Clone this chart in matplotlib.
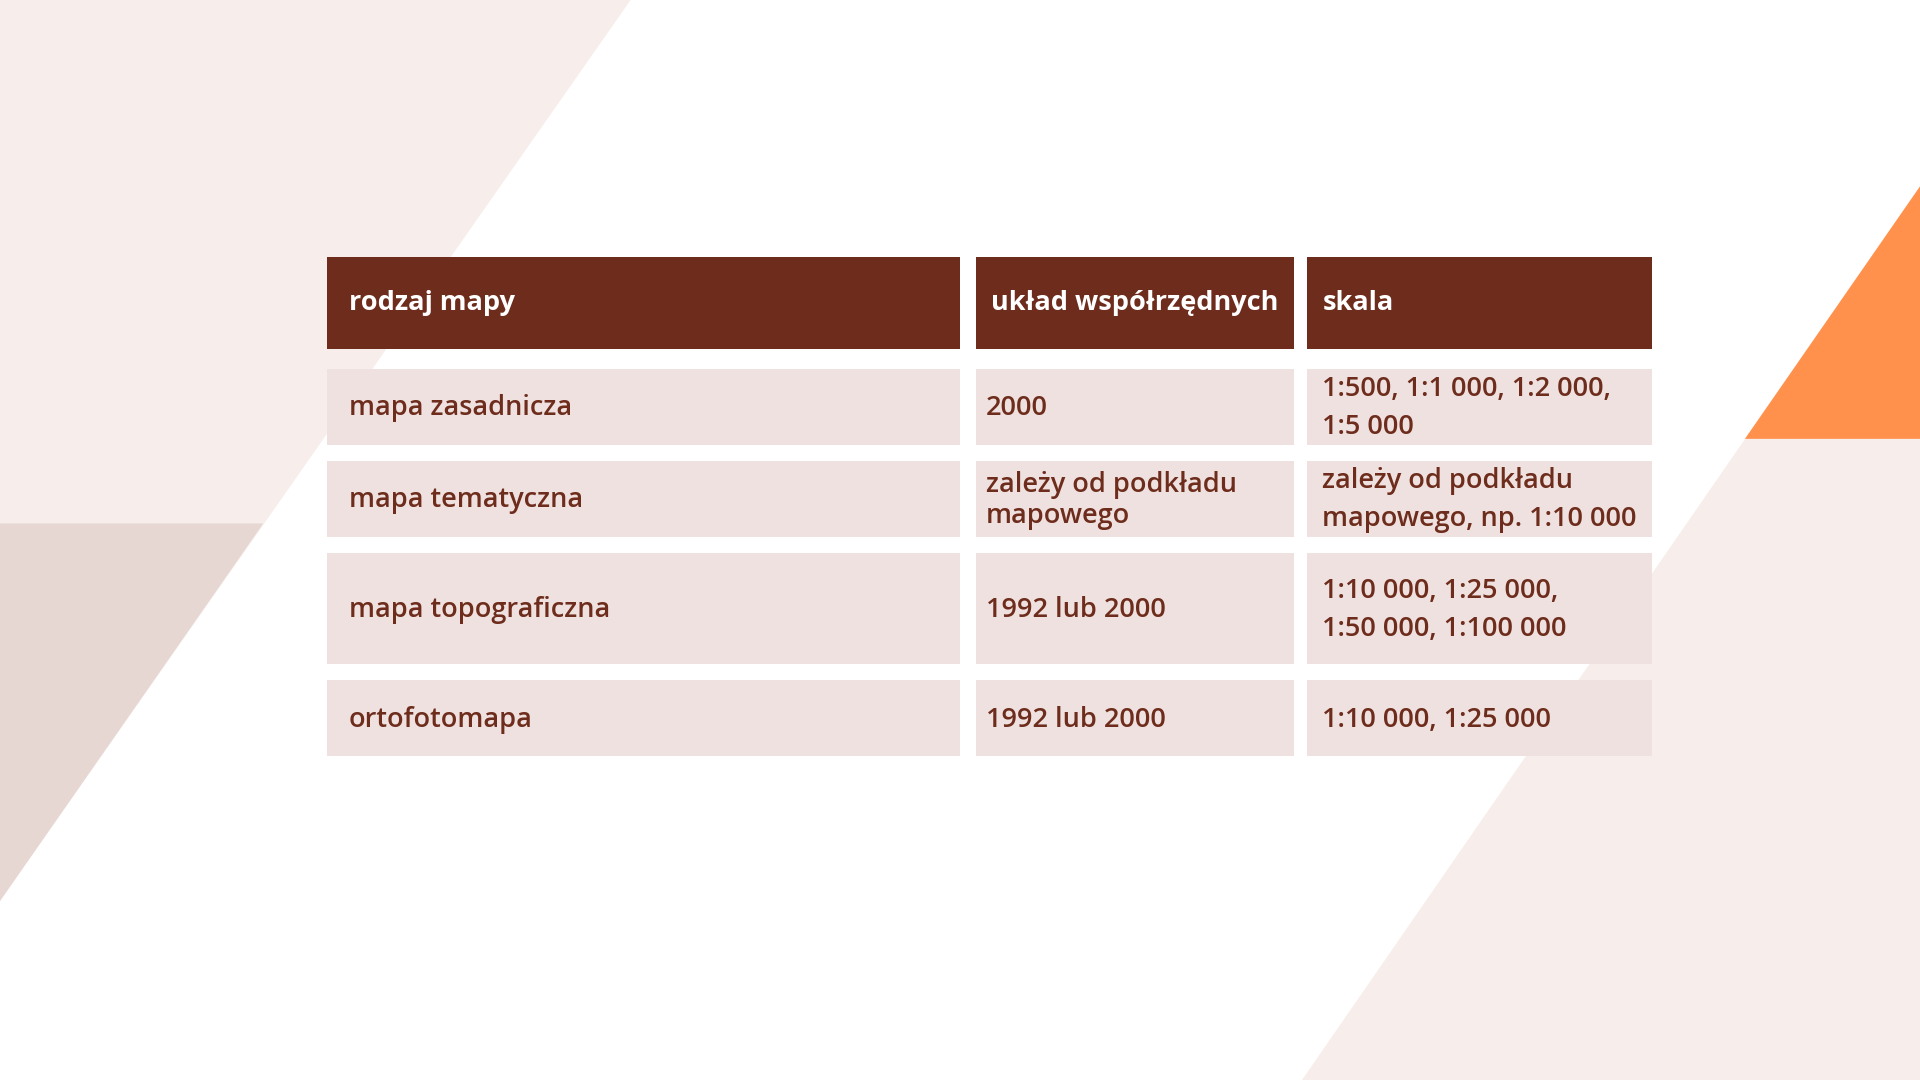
import matplotlib.pyplot as plt
from matplotlib.patches import Polygon, Rectangle

# table content
headers = ["rodzaj mapy", "układ współrzędnych", "skala"]
col1 = ["mapa zasadnicza", "mapa tematyczna", "mapa topograficzna", "ortofotomapa"]
col2 = ["2000", "zależy od podkładu\nmapowego", "1992 lub 2000", "1992 lub 2000"]
col3 = ["1:500, 1:1 000, 1:2 000,\n1:5 000", "zależy od podkładu\nmapowego, np. 1:10 000",
        "1:10 000, 1:25 000,\n1:50 000, 1:100 000", "1:10 000, 1:25 000"]

# layout (in reference pixel units, 1568 x 881)
W, H = 1568, 881
col_x = [(267, 784), (797, 1057), (1067, 1349)]
text_x = [285, 805, 1080]
header_y = (210, 285)
row_y = [(301, 363), (376, 438), (451, 542), (555, 617)]

DARK = "#6d2c1c"
ROW = "#efe1df"

fig = plt.figure(figsize=(19.2, 10.8), dpi=100)
ax = fig.add_axes([0, 0, 1, 1])
ax.set_xlim(0, W)
ax.set_ylim(H, 0)
ax.axis("off")

# background shapes
ax.add_patch(Polygon([(0, 0), (515, 0), (0, 735)], color="#f7eeeb", lw=0))
ax.add_patch(Polygon([(0, 427), (215, 427), (0, 735)], color="#e6d7d3", lw=0))
ax.add_patch(Polygon([(1425, 358), (1568, 358), (1568, 881), (1063, 881)], color="#f7eeeb", lw=0))
ax.add_patch(Polygon([(1425, 358), (1568, 152), (1568, 358)], color="#ff914d", lw=0))

font = dict(family="Open Sans", fontsize=19.5, fontweight="semibold", va="center")

for (x0, x1), tx, h in zip(col_x, text_x, headers):
    ax.add_patch(Rectangle((x0, header_y[0]), x1 - x0, header_y[1] - header_y[0], color=DARK, lw=0))
    hx = 809 if tx == 805 else tx
    ax.text(hx, (header_y[0] + header_y[1]) / 2, h, color="white",
            **{**font, "fontweight": "bold"})

for i, (y0, y1) in enumerate(row_y):
    cells = [col1[i], col2[i], col3[i]]
    for (x0, x1), tx, txt in zip(col_x, text_x, cells):
        ax.add_patch(Rectangle((x0, y0), x1 - x0, y1 - y0, color=ROW, lw=0))
        ls = 1.15 if (i == 1 and tx == 805) else 1.45
        ax.text(tx, (y0 + y1) / 2 + 1, txt, color=DARK, linespacing=ls, **font)

fig.savefig("out.png", dpi=100)
